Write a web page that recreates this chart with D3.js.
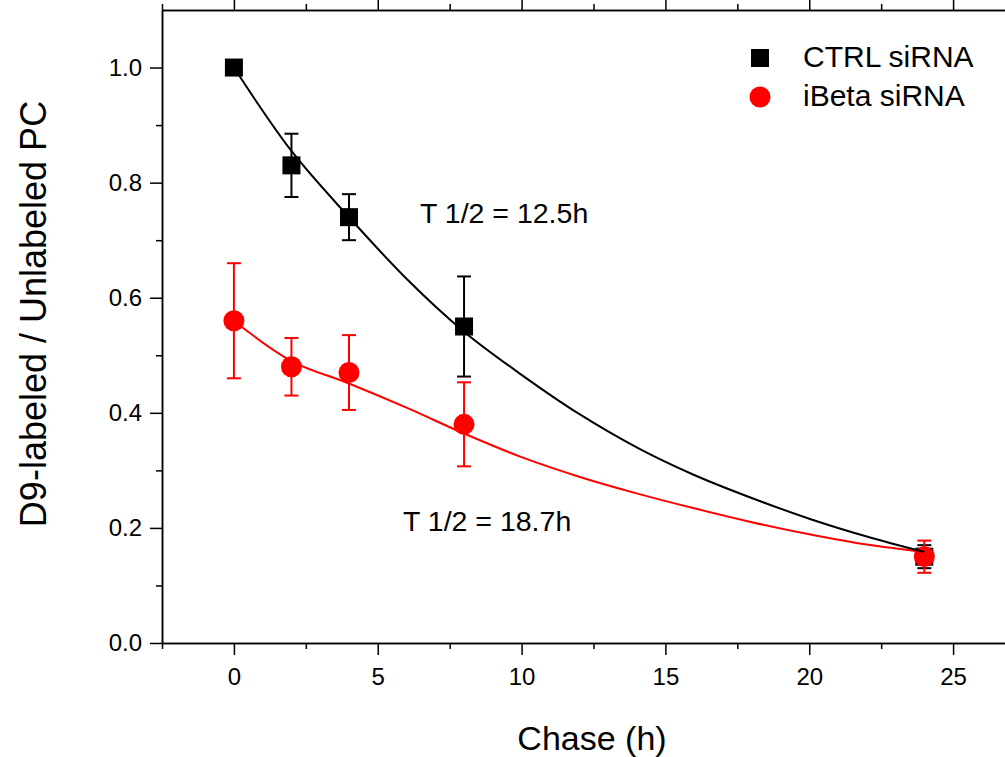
<!DOCTYPE html>
<html>
<head>
<meta charset="utf-8">
<script src="https://cdn.jsdelivr.net/npm/d3@7"></script>
<style>
  body { margin: 0; background: #fff; }
  svg { display: block; font-family: Arial, "Liberation Sans", sans-serif; }
</style>
</head>
<body>
<svg></svg>
<script>
// measured points (chase time in hours)
const timesH = [0, 2, 4, 8, 24];
const ctrlMean = [1.0, 0.83, 0.74, 0.55, 0.15];
const ctrlErr = [0, 0.055, 0.04, 0.087, 0.02];
const ibetaMean = [0.56, 0.48, 0.47, 0.38, 0.15];
const ibetaErr = [0.1, 0.05, 0.065, 0.073, 0.028];

// fitted decay curves
const fitX = [0, 2, 4, 6, 8, 10, 12, 14, 16, 18, 20, 22, 24];
const ctrlFit = [1.0, 0.855, 0.74, 0.633, 0.541, 0.466, 0.398, 0.34, 0.292, 0.252, 0.216, 0.185, 0.158];
const ibetaFit = [0.56, 0.49, 0.451, 0.409, 0.364, 0.323, 0.289, 0.26, 0.234, 0.21, 0.189, 0.171, 0.158];

const xMajor = [0, 5, 10, 15, 20, 25];
const xMinor = [-2.5, 2.5, 7.5, 12.5, 17.5, 22.5, 27.5];
const yMajor = [0, 0.2, 0.4, 0.6, 0.8, 1.0];
const yMinor = [0.1, 0.3, 0.5, 0.7, 0.9];

const size = {w: 1005, h: 757};
const svg = d3.select('svg')
    .attr('width', size.w)
    .attr('height', size.h);

const x = d3.scaleLinear().domain([-2.5, 27.5]).range([162, 1025]);
const y = d3.scaleLinear().domain([0, 1.1]).range([643, 10]);

function styleAxis(g) {
    g.select('.domain').attr('stroke', '#000').attr('stroke-width', 1.5);
    g.selectAll('.tick line').attr('stroke', '#000').attr('stroke-width', 1.5);
    g.selectAll('.tick text').attr('fill', '#000').style('font-size', '24px');
}

// bottom axis
svg.append('g')
    .attr('transform', `translate(0, ${y(0)})`)
    .call(d3.axisBottom(x).tickValues(xMajor).tickSize(12).tickSizeOuter(0).tickPadding(13))
    .call(styleAxis);
svg.append('g')
    .attr('transform', `translate(0, ${y(0)})`)
    .call(d3.axisBottom(x).tickValues(xMinor).tickSize(6).tickSizeOuter(0).tickFormat(''))
    .call(styleAxis);

// top axis, no labels
svg.append('g')
    .attr('transform', `translate(0, ${y(1.1)})`)
    .call(d3.axisTop(x).tickValues(xMajor).tickSize(12).tickSizeOuter(0).tickFormat(''))
    .call(styleAxis);
svg.append('g')
    .attr('transform', `translate(0, ${y(1.1)})`)
    .call(d3.axisTop(x).tickValues(xMinor).tickSize(6).tickSizeOuter(0).tickFormat(''))
    .call(styleAxis);

// left axis
svg.append('g')
    .attr('transform', `translate(${x(-2.5)}, 0)`)
    .call(d3.axisLeft(y).tickValues(yMajor).tickSize(12).tickSizeOuter(0).tickPadding(8).tickFormat(d3.format('.1f')))
    .call(styleAxis);
svg.append('g')
    .attr('transform', `translate(${x(-2.5)}, 0)`)
    .call(d3.axisLeft(y).tickValues(yMinor).tickSize(6).tickSizeOuter(0).tickFormat(''))
    .call(styleAxis);

// axis titles
svg.append('text')
    .attr('x', 592).attr('y', 750)
    .attr('text-anchor', 'middle')
    .style('font-size', '34px')
    .text('Chase (h)');

svg.append('text')
    .attr('transform', `translate(46, 314) rotate(-90)`)
    .attr('text-anchor', 'middle')
    .style('font-size', '36px')
    .text('D9-labeled / Unlabeled PC');

const series = [
    {name: 'CTRL siRNA', color: '#000', mean: ctrlMean, err: ctrlErr, fit: ctrlFit, shape: 'square'},
    {name: 'iBeta siRNA', color: '#ff0000', mean: ibetaMean, err: ibetaErr, fit: ibetaFit, shape: 'circle'}
];

const capW = 7;

series.forEach(s => {
    let pts = timesH.map((t, i) => ({t: t, v: s.mean[i], e: s.err[i]}));
    let g = svg.append('g');

    // error bars
    let eb = g.selectAll('g.err')
        .data(pts.filter(d => d.e > 0))
        .join('g')
        .attr('stroke', s.color)
        .attr('stroke-width', 2);
    eb.append('line')
        .attr('x1', d => x(d.t)).attr('x2', d => x(d.t))
        .attr('y1', d => y(d.v + d.e)).attr('y2', d => y(d.v - d.e));
    eb.append('line')
        .attr('x1', d => x(d.t) - capW).attr('x2', d => x(d.t) + capW)
        .attr('y1', d => y(d.v + d.e)).attr('y2', d => y(d.v + d.e));
    eb.append('line')
        .attr('x1', d => x(d.t) - capW).attr('x2', d => x(d.t) + capW)
        .attr('y1', d => y(d.v - d.e)).attr('y2', d => y(d.v - d.e));

    if (s.shape === 'square') {
        g.selectAll('rect')
            .data(pts)
            .join('rect')
            .attr('x', d => x(d.t) - 9)
            .attr('y', d => y(d.v) - 9)
            .attr('width', 18).attr('height', 18)
            .attr('fill', s.color);
    } else {
        g.selectAll('circle')
            .data(pts)
            .join('circle')
            .attr('cx', d => x(d.t))
            .attr('cy', d => y(d.v))
            .attr('r', 10.5)
            .attr('fill', s.color);
    }
});

// fit lines on top
const line = d3.line()
    .x(d => x(d[0]))
    .y(d => y(d[1]))
    .curve(d3.curveCatmullRom);

[series[1], series[0]].forEach(s => {
    svg.append('path')
        .datum(fitX.map((t, i) => [t, s.fit[i]]))
        .attr('d', line)
        .attr('fill', 'none')
        .attr('stroke', s.color)
        .attr('stroke-width', 2);
});

// legend
const legend = svg.append('g');
legend.append('rect')
    .attr('x', 751).attr('y', 49).attr('width', 18).attr('height', 18)
    .attr('fill', '#000');
legend.append('text')
    .attr('x', 803).attr('y', 67)
    .style('font-size', '30px')
    .text(series[0].name);
legend.append('circle')
    .attr('cx', 760).attr('cy', 97).attr('r', 10.5)
    .attr('fill', '#ff0000');
legend.append('text')
    .attr('x', 803).attr('y', 106)
    .style('font-size', '30px')
    .text(series[1].name);

// half-life annotations
svg.append('text')
    .attr('x', 420).attr('y', 223)
    .style('font-size', '28.5px')
    .text('T 1/2 = 12.5h');
svg.append('text')
    .attr('x', 403).attr('y', 531)
    .style('font-size', '28.5px')
    .text('T 1/2 = 18.7h');
</script>
</body>
</html>
